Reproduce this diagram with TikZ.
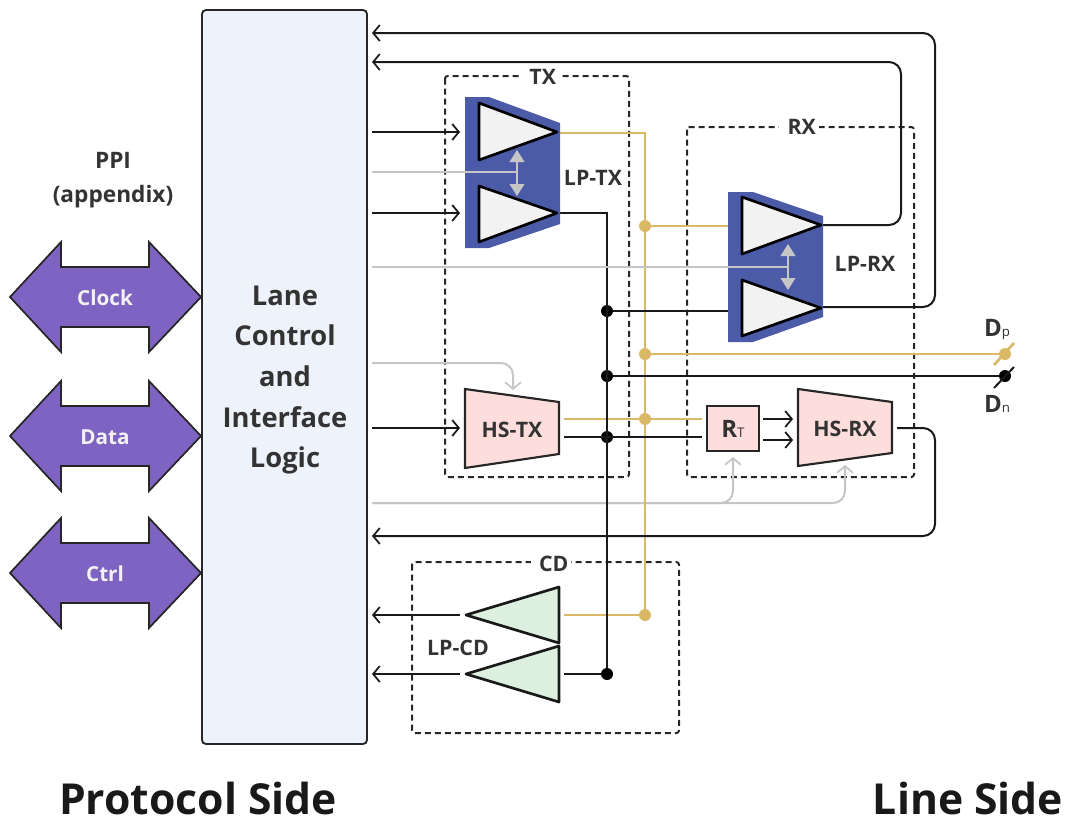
\documentclass[tikz,border=0pt]{standalone}
\usepackage{fontspec}
\setmainfont{Open Sans}
\usetikzlibrary{arrows.meta,positioning,calc}
\definecolor{lanefill}{HTML}{EEF2FB}
\definecolor{ppifill}{HTML}{7E63C2}
\definecolor{lpblue}{HTML}{4C5BA8}
\definecolor{hspink}{HTML}{FDDEDC}
\definecolor{cdgreen}{HTML}{DDF0E0}
\definecolor{goldwire}{HTML}{D9B965}
\definecolor{graywire}{HTML}{C6C6C6}
\definecolor{inktext}{HTML}{333333}
\tikzset{
  wire/.style    = { draw=black!90, line width=1.5pt },
  sig/.style     = { wire, -{Straight Barb[length=5pt,width=12pt,line width=1.3pt]} },
  gold/.style    = { draw=goldwire, line width=2pt },
  ctl/.style     = { draw=graywire, line width=1.5pt },
  ctlsig/.style  = { ctl, -{Straight Barb[length=5pt,width=12pt,line width=1.3pt]} },
  ctlboth/.style = { draw=graywire, line width=1.3pt,
    {Triangle[length=9pt,width=11pt]}-{Triangle[length=9pt,width=11pt]} },
  ln/.style      = { fill=black, circle, inner sep=0pt, minimum size=9pt },
  lngold/.style  = { fill=goldwire, circle, inner sep=0pt, minimum size=9pt },
  amp/.style     = { draw=black, line width=2pt, fill=black!5, line join=round },
  cdamp/.style   = { draw=black!90, line width=2pt, fill=cdgreen, line join=round },
  hsbox/.style   = { draw=black!85, line width=1.6pt, fill=hspink },
  dashbox/.style = { draw=black!85, line width=1.5pt, dash pattern=on 4.5pt off 3pt, rounded corners=2pt },
  lbl/.style     = { font=\bfseries\fontsize{16}{18}\selectfont, text=inktext, inner sep=1pt },
  boxlbl/.style  = { lbl, fill=white, inner sep=2pt },
  sidelbl/.style = { font=\bfseries\fontsize{32}{36}\selectfont, text=black!90, inner sep=0pt },
  ppi/.style     = { draw=black!85, line width=1.3pt, fill=ppifill, line join=miter }
}
\begin{document}
\begin{tikzpicture}[x=0.75pt,y=-0.75pt]
    \useasboundingbox (0,0) rectangle (1071,818);

    % lane block
    \node[draw=black!85, line width=1.4pt, fill=lanefill, rounded corners=3pt, minimum width=123.75pt,
      minimum height=550.5pt] (lane) at (284.5,377) {};
    \node[align=center, text=inktext, font=\bfseries\fontsize{20.5}{30.5}\selectfont] (lanetext) at (285,380)
      {Lane\\Control\\and\\Interface\\Logic};

    % ppi arrows
    \node[font=\bfseries\fontsize{17}{25.5}\selectfont, text=inktext, align=center] (ppilabel) at (113,180) {PPI\\[0pt](appendix)};
    \foreach \y/\name in {297/Clock,436/Data,573/Ctrl} {
      \draw[ppi] (10,\y) -- ++(51,-55) -- ++(0,25) -- ++(88,0) -- ++(0,-25) -- ++(52,55)
        -- ++(-52,55) -- ++(0,-25) -- ++(-88,0) -- ++(0,25) -- cycle;
      \node[font=\bfseries\fontsize{15.5}{18}\selectfont, text=white!95!black] (ppi\name) at (105,\y+1) {\name};
    }

    % dashed groups
    \draw[dashbox] (445,76) rectangle (629,477);
    \draw[dashbox] (687,127) rectangle (914,477);
    \draw[dashbox] (412,562) rectangle (679,733);
    \node[boxlbl] (txlabel) at (540,77) {~TX~};
    \node[boxlbl] (rxlabel) at (799,127) {~RX~};
    \node[boxlbl] (cdlabel) at (551,564) {~CD~};

    % lane side ends
    \coordinate (laneA) at (372,33);
    \coordinate (laneB) at (372,62);
    \coordinate (laneC) at (372,132);
    \coordinate (laneD) at (372,172);
    \coordinate (laneE) at (372,213);
    \coordinate (laneF) at (372,267);
    \coordinate (laneG) at (372,363);
    \coordinate (laneH) at (372,428);
    \coordinate (laneI) at (372,503);
    \coordinate (laneJ) at (372,536);
    \coordinate (laneK) at (372,615);
    \coordinate (laneL) at (372,674);

    % ports
    \coordinate (txtopin) at (460,132);
    \coordinate (txlowin) at (460,213);
    \coordinate (txtopout) at (557,133);
    \coordinate (txlowout) at (557,213);
    \coordinate (rxtopin) at (729,226);
    \coordinate (rxlowin) at (729,311);
    \coordinate (rxtopout) at (821,225);
    \coordinate (rxlowout) at (821,307);
    \coordinate (hstxin) at (460,428);
    \coordinate (hstxgold) at (564,419);
    \coordinate (hstxblack) at (564,437);
    \coordinate (rtgold) at (702,419);
    \coordinate (rtblack) at (702,437);
    \coordinate (rtoutA) at (763,419);
    \coordinate (rtoutB) at (763,440);
    \coordinate (hsrxinA) at (793,419);
    \coordinate (hsrxinB) at (793,440);
    \coordinate (hsrxout) at (897,428);
    \coordinate (cdgold) at (564,615);
    \coordinate (cdblack) at (564,674);
    \coordinate (cdtop) at (460,615);
    \coordinate (cdlow) at (460,674);
    \coordinate (goldturn) at (645,133);
    \coordinate (blackturn) at (607,213);
    \coordinate (outerturnA) at (935,33);
    \coordinate (outerturnB) at (935,307);
    \coordinate (innerturnA) at (901,62);
    \coordinate (innerturnB) at (901,225);
    \coordinate (backturnA) at (935,428);
    \coordinate (backturnB) at (935,536);
    \coordinate (ctlturnA) at (513,363);
    \coordinate (ctlhstx) at (513,390);
    \coordinate (ctlturnB) at (733,503);
    \coordinate (ctlrt) at (733,457);
    \coordinate (ctlturnC) at (845,503);
    \coordinate (ctlhsrx) at (845,465);
    \coordinate (txboth) at (517,172);
    \coordinate (rxboth) at (788,267);

    % junctions
    \node[lngold] (g1) at (645,226) {};
    \node[lngold] (g2) at (645,354) {};
    \node[lngold] (g3) at (645,419) {};
    \node[lngold] (g4) at (645,615) {};
    \node[ln] (b1) at (607,311) {};
    \node[ln] (b2) at (607,376) {};
    \node[ln] (b3) at (607,437) {};
    \node[ln] (b4) at (607,674) {};
    \node[lngold] (dp) at (1005,354) {};
    \node[ln] (dn) at (1005,376) {};

    % gray control
    \draw[ctlsig, rounded corners=9pt] (laneG) -- (ctlturnA) -- (ctlhstx);
    \draw[ctlsig, rounded corners=9pt] (laneI) -- (ctlturnB) -- (ctlrt);
    \draw[ctlsig, rounded corners=9pt] (laneI) -- (ctlturnC) -- (ctlhsrx);

    % yellow lines
    \draw[gold] (txtopout) -- (goldturn) -- (g4) -- (cdgold);
    \draw[gold] (g1) -- (rxtopin);
    \draw[gold] (g2) -- (dp);
    \draw[gold] (hstxgold) -- (rtgold);
    \draw[gold] ($(dp)+(-11,11)$) -- ($(dp)+(9,-11)$);

    % black lines
    \draw[wire] (txlowout) -- (blackturn) -- (b4) -- (cdblack);
    \draw[wire] (b1) -- (rxlowin);
    \draw[wire] (b2) -- (dn);
    \draw[wire] (hstxblack) -- (rtblack);
    \draw[wire] ($(dn)+(-11,12)$) -- ($(dn)+(9,-9)$);
    \draw[sig] (laneC) -- (txtopin);
    \draw[sig] (laneE) -- (txlowin);
    \draw[sig] (laneH) -- (hstxin);
    \draw[sig] (rtoutA) -- (hsrxinA);
    \draw[sig] (rtoutB) -- (hsrxinB);
    \draw[sig] (cdtop) -- (laneK);
    \draw[sig] (cdlow) -- (laneL);
    \draw[sig, rounded corners=9pt] (rxlowout) -- (outerturnB) -- (outerturnA) -- (laneA);
    \draw[sig, rounded corners=9pt] (rxtopout) -- (innerturnB) -- (innerturnA) -- (laneB);
    \draw[sig, rounded corners=9pt] (hsrxout) -- (backturnA) -- (backturnB) -- (laneJ);

    % lp-tx
    \fill[lpblue] (465,97) -- (489,97) -- (560,123) -- (560,224) -- (489,248) -- (465,248) -- cycle;
    \draw[amp] (479,103) -- (479,160) -- (557,132) -- cycle;
    \draw[amp] (479,186) -- (479,242) -- (557,213) -- cycle;
    \draw[ctl] (laneD) -- (txboth);
    \draw[ctlboth] (517,150) -- (517,196);
    \node[lbl] (lptx) at (593,178) {LP-TX};

    % lp-rx
    \fill[lpblue] (728,192) -- (753,192) -- (823,216) -- (823,317) -- (753,342) -- (728,342) -- cycle;
    \draw[amp] (742,197) -- (742,254) -- (821,225) -- cycle;
    \draw[amp] (742,280) -- (742,336) -- (821,308) -- cycle;
    \draw[ctl] (laneF) -- (rxboth);
    \draw[ctlboth] (788,244) -- (788,290);
    \node[lbl] (lprx) at (865,264) {LP-RX};

    % hs blocks
    \draw[hsbox] (465,389) -- (559,402) -- (559,454) -- (465,468) -- cycle;
    \node[lbl] (hstx) at (512,430) {HS-TX};
    \draw[hsbox] (798,389) -- (892,402) -- (892,453) -- (798,466) -- cycle;
    \node[lbl] (hsrx) at (845,429) {HS-RX};
    \node[hsbox, minimum width=39pt, minimum height=33.75pt, inner sep=0pt, text=inktext] (rt) at (733,428.5)
      {\bfseries\fontsize{18}{20}\selectfont R\mdseries\fontsize{10}{10}\selectfont T};

    % lp-cd
    \draw[cdamp] (466,615) -- (559,587) -- (559,643) -- cycle;
    \draw[cdamp] (466,674) -- (559,646) -- (559,702) -- cycle;
    \node[lbl] (lpcd) at (458,648) {LP-CD};

    % line names
    \node[text=inktext, inner sep=0pt] (dplabel) at (997,330)
      {\bfseries\fontsize{18}{20}\selectfont D\mdseries\fontsize{10}{10}\selectfont p};
    \node[text=inktext, inner sep=0pt] (dnlabel) at (997,404)
      {\bfseries\fontsize{18}{20}\selectfont D\mdseries\fontsize{10}{10}\selectfont n};

    % sides
    \node[sidelbl] (protoside) at (198,798) {Protocol Side};
    \node[sidelbl] (lineside) at (968,798) {Line Side};
\end{tikzpicture}
\end{document}
